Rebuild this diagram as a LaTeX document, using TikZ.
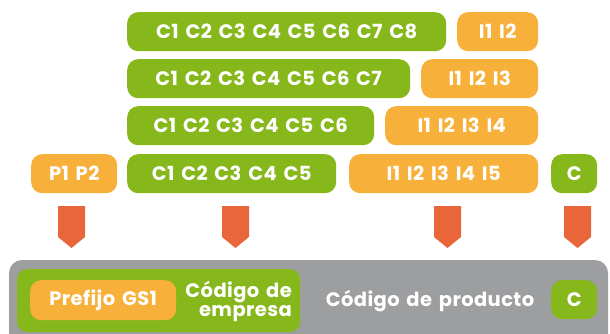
\documentclass[tikz,border=0pt]{standalone}
\usepackage{fontspec}
\setmainfont{Poppins}[LetterSpace=2,WordSpace=1.5]
\definecolor{gsgreen}{HTML}{86B81B}
\definecolor{gsorange}{HTML}{F7B03A}
\definecolor{gsarrow}{HTML}{E8663A}
\definecolor{gsgray}{HTML}{9D9EA0}
\begin{document}
\begin{tikzpicture}[x=1pt,y=-1pt,
  boxbase/.style={rounded corners=11pt, inner sep=0pt, minimum height=39pt, anchor=north west,
    text=white, font=\fontsize{19.5}{22}\selectfont\bfseries},
  gbox/.style={boxbase, fill=gsgreen},
  obox/.style={boxbase, fill=gsorange},
  downarrow/.style={fill=gsarrow},
  lbl/.style={text=white, font=\fontsize{19.5}{22}\selectfont\bfseries, inner sep=0pt}
]
\useasboundingbox (0,0) rectangle (610,334);
% row 1
\node[gbox, minimum width=319pt] (c8) at (127,12) {C1 C2 C3 C4 C5 C6 C7 C8};
\node[obox, minimum width=81pt] (i2) at (457,12) {I1 I2};
% row 2
\node[gbox, minimum width=283pt] (c7) at (127,59) {C1 C2 C3 C4 C5 C6 C7};
\node[obox, minimum width=117pt] (i3) at (421,59) {I1 I2 I3};
% row 3
\node[gbox, minimum width=247pt] (c6) at (127,106) {C1 C2 C3 C4 C5 C6};
\node[obox, minimum width=153pt] (i4) at (385,106) {I1 I2 I3 I4};
% row 4
\node[obox, minimum width=86pt] (p) at (31,154) {P1 P2};
\node[gbox, minimum width=209pt] (c5) at (127,154) {C1 C2 C3 C4 C5};
\node[obox, minimum width=189pt] (i5) at (349,154) {I1 I2 I3 I4 I5};
\node[gbox, minimum width=46pt] (cc) at (551,154) {C};
% arrows
\foreach \x in {58,222,434,564}{
  \fill[downarrow] (\x,206) -- (\x+27,206) -- (\x+27,237) -- (\x+13.5,248) -- (\x,237) -- cycle;
}
% bottom panel
\begin{scope}
\clip (0,0) rectangle (610,334);
\fill[gsgray, rounded corners=13pt] (9,260) rectangle (608,350);
\end{scope}
\fill[gsgreen, rounded corners=10pt] (17,269) rectangle (300,332);
\node[obox, minimum width=146pt, minimum height=40pt] (pref) at (30,280) {Prefijo GS1};
\node[lbl, align=right, anchor=east] (emp) at (292,301) {Código de\\[-3pt]empresa};
\node[lbl, anchor=center] (prod) at (430,301) {Código de producto};
\node[gbox, minimum width=46pt, minimum height=39pt] (c2) at (551,280) {C};
\end{tikzpicture}
\end{document}
